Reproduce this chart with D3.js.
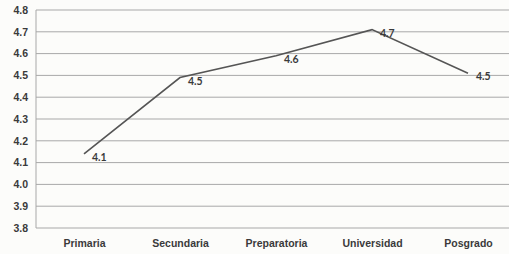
<!DOCTYPE html>
<html lang="es">
<head>
  <meta charset="UTF-8">
  <title>Nivel educativo</title>
  <script src="https://d3js.org/d3.v7.min.js"></script>
  <style>
    body { margin: 0; background: #fcfcfa; font-family: Lato, "Open Sans", sans-serif; }
    svg { display: block; }
    .tick text { fill: #3a3a3a; font-size: 10.5px; font-weight: bold; }
    .grid line { stroke: #a8a8a8; stroke-width: 1; }
    .label { fill: #3a3a3a; font-size: 10.5px; font-weight: bold; }
  </style>
</head>
<body>
  <svg width="509" height="254"></svg>

  <script>
    const categories = ["Primaria", "Secundaria", "Preparatoria", "Universidad", "Posgrado"];
    const values = [4.14, 4.49, 4.59, 4.71, 4.51];
    const valueLabels = ["4.1", "4.5", "4.6", "4.7", "4.5"];
    const yTicks = [3.8, 3.9, 4.0, 4.1, 4.2, 4.3, 4.4, 4.5, 4.6, 4.7, 4.8];

    const svg = d3.select("svg");
    const margin = {top: 10, right: -7, bottom: 26, left: 36};
    const width = +svg.attr("width") - margin.left - margin.right;
    const height = +svg.attr("height") - margin.top - margin.bottom;

    const chart = svg.append("g")
        .attr("transform", `translate(${margin.left},${margin.top})`);

    const x = d3.scalePoint()
        .domain(categories)
        .range([0, width])
        .padding(0.5);

    const y = d3.scaleLinear()
        .domain([3.8, 4.8])
        .range([height, 0]);

    // horizontal gridlines
    chart.append("g")
        .attr("class", "grid")
        .selectAll("line")
        .data(yTicks)
        .enter().append("line")
          .attr("x1", 0)
          .attr("x2", width)
          .attr("y1", d => y(d))
          .attr("y2", d => y(d));

    chart.append("line")
        .attr("x1", 0).attr("x2", 0)
        .attr("y1", 0).attr("y2", height)
        .attr("stroke", "#a8a8a8");

    const yAxis = chart.append("g")
        .call(d3.axisLeft(y).tickValues(yTicks).tickFormat(d3.format(".1f")).tickSize(0).tickPadding(8));
    yAxis.select(".domain").remove();

    const xAxis = chart.append("g")
        .attr("transform", `translate(0,${height})`)
        .call(d3.axisBottom(x).tickSize(0).tickPadding(12));
    xAxis.select(".domain").remove();

    const line = d3.line()
        .x((d, i) => x(categories[i]))
        .y(d => y(d));

    chart.append("path")
        .datum(values)
        .attr("fill", "none")
        .attr("stroke", "#555")
        .attr("stroke-width", 1.6)
        .attr("d", line);

    chart.selectAll(".label")
      .data(values)
      .enter().append("text")
        .attr("class", "label")
        .attr("x", (d, i) => x(categories[i]) + 8)
        .attr("y", d => y(d) + 7)
        .text((d, i) => valueLabels[i]);
  </script>
</body>
</html>
